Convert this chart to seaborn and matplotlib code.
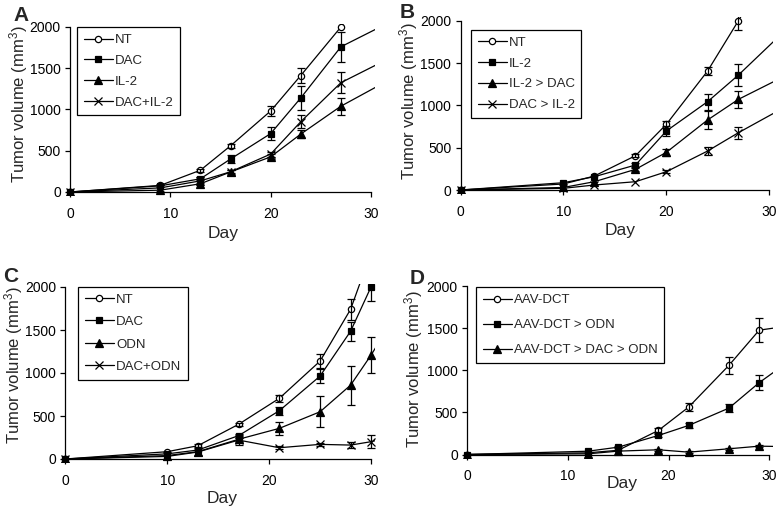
import numpy as np
import pandas as pd
import seaborn as sns
import matplotlib.pyplot as plt

# ---------------- data ----------------
# panel A
days_a = [0, 9, 13, 16, 20, 23, 27, 31]
nt_a = [0, 80, 264, 560, 982, 1412, 2000, 2700]
dac_a = [0, 75, 160, 400, 708, 1140, 1760, 2005]
il2_a = [0, 22, 100, 243, 426, 702, 1040, 1305]
dacil2_a = [0, 50, 135, 245, 460, 852, 1325, 1570]
nt_a_err = [0, 0, 20, 25, 60, 90, 0, 0]
dac_a_err = [0, 10, 20, 50, 80, 150, 185, 0]
il2_a_err = [0, 0, 15, 20, 30, 50, 101, 0]
dacil2_a_err = [0, 0, 0, 20, 30, 77, 130, 0]

# panel B
days_b = [0, 10, 13, 17, 20, 24, 27, 31]
nt_b = [0, 71, 165, 405, 776, 1405, 2000, 2800]
il2_b = [0, 86, 157, 295, 697, 1043, 1358, 1822]
il2dac_b = [0, 30, 98, 244, 445, 827, 1071, 1315]
dacil2_b = [0, 20, 59, 98, 216, 460, 677, 945]
nt_b_err = [0, 0, 0, 20, 40, 45, 105, 0]
il2_b_err = [0, 0, 0, 25, 60, 95, 130, 0]
il2dac_b_err = [0, 0, 0, 20, 40, 106, 102, 0]
dacil2_b_err = [0, 0, 0, 0, 20, 47, 71, 0]

# panel C
days_c = [0, 10, 13, 17, 21, 25, 28, 30, 31]
nt_c = [0, 85, 154, 403, 705, 1138, 1741, 2400, 2800]
dac_c = [0, 60, 104, 271, 561, 964, 1486, 2000, 2400]
odn_c = [0, 40, 85, 229, 356, 549, 859, 1207, 1400]
dacodn_c = [0, 30, 81, 220, 131, 170, 162, 201, 230]
nt_c_err = [0, 0, 15, 20, 40, 85, 125, 0, 0]
dac_c_err = [0, 0, 0, 25, 46, 77, 112, 163, 0]
odn_c_err = [0, 0, 0, 20, 77, 178, 228, 209, 0]
dacodn_c_err = [0, 0, 0, 58, 15, 15, 31, 77, 0]

# panel D
days_d = [0, 12, 15, 19, 22, 26, 29, 31]
aav_d = [0, 20, 50, 286, 563, 1059, 1476, 1510]
odn_d = [0, 39, 87, 226, 345, 551, 853, 1025]
dacodn_d = [0, 8, 40, 56, 28, 68, 99, 95]
aav_d_err = [0, 0, 0, 30, 52, 103, 145, 0]
odn_d_err = [0, 0, 15, 20, 30, 48, 89, 0]
dacodn_d_err = [0, 0, 0, 10, 10, 10, 12, 0]

panels = [
    ('A', days_a, [('NT', nt_a, nt_a_err), ('DAC', dac_a, dac_a_err),
                   ('IL-2', il2_a, il2_a_err), ('DAC+IL-2', dacil2_a, dacil2_a_err)]),
    ('B', days_b, [('NT', nt_b, nt_b_err), ('IL-2', il2_b, il2_b_err),
                   ('IL-2 > DAC', il2dac_b, il2dac_b_err), ('DAC > IL-2', dacil2_b, dacil2_b_err)]),
    ('C', days_c, [('NT', nt_c, nt_c_err), ('DAC', dac_c, dac_c_err),
                   ('ODN', odn_c, odn_c_err), ('DAC+ODN', dacodn_c, dacodn_c_err)]),
    ('D', days_d, [('AAV-DCT', aav_d, aav_d_err), ('AAV-DCT > ODN', odn_d, odn_d_err),
                   ('AAV-DCT > DAC > ODN', dacodn_d, dacodn_d_err)]),
]

# ---------------- layout (pixel positions of x=0, x=30, y=0, y=2000) ----------------
W, H = 777, 507
axis_px = {'A': (70, 371, 192, 27), 'B': (460.5, 769.3, 190, 20.7),
           'C': (65.3, 371, 459, 287), 'D': (467, 769.3, 454.5, 286)}
letter_px = {'A': (13, 6), 'B': (400, 3), 'C': (3, 267), 'D': (410, 269)}
legend_px = {'A': (77.3, 27.3, 0.65), 'B': (471, 30, 0.65), 'C': (78.3, 286.7, 0.78), 'D': (476, 287.3, 0.98)}
xlabel_px = {'A': (223.3, 233.3), 'B': (620, 230), 'C': (221.7, 498.3), 'D': (621.7, 483.3)}
ylabel_px = {'A': (18.6, 104), 'B': (409, 101), 'C': (13.3, 365), 'D': (414, 369)}
XLIM = (-0.6, 30.4)
YLIM = (-40, 2040)
# marker, size, face
marker_list = [('o', 4.5, 'white'), ('s', 5, 'black'), ('^', 5.5, 'black'), ('x', 5.5, 'black')]

sns.set_style('ticks')
plt.rcParams['font.family'] = ['Liberation Sans', 'DejaVu Sans']
plt.rcParams['mathtext.fontset'] = 'custom'
plt.rcParams['mathtext.rm'] = 'Liberation Sans'
plt.rcParams['mathtext.it'] = 'Liberation Sans'

fig = plt.figure(figsize=(W / 100, H / 100), dpi=100)


def axes_rect(x0, x30, y0, y2000):
    ppd = (x30 - x0) / 30
    ppu = (y0 - y2000) / 2000
    left = x0 + XLIM[0] * ppd
    right = x30 + (XLIM[1] - 30) * ppd
    bottom = y0 - YLIM[0] * ppu
    top = y2000 - (YLIM[1] - 2000) * ppu
    return [left / W, 1 - bottom / H, (right - left) / W, (bottom - top) / H]


for letter, days, series in panels:
    ax = fig.add_axes(axes_rect(*axis_px[letter]))
    handles = []
    names = []
    for (name, vals, errs), (mk, ms, face) in zip(series, marker_list):
        n_before = len(ax.lines)
        sns.lineplot(x=days, y=vals, color='black', marker=mk, markersize=ms,
                     markerfacecolor=face, markeredgecolor='black', markeredgewidth=0.9,
                     linewidth=0.9, errorbar=None, ax=ax)
        handles.append(ax.lines[n_before])
        names.append(name)
        d = np.array(days)
        v = np.array(vals)
        e = np.array(errs)
        keep = e > 0
        ax.errorbar(d[keep], v[keep], yerr=e[keep], fmt='none', ecolor='black',
                    elinewidth=0.9, capsize=3, capthick=0.9)

    ax.set_xlim(*XLIM)
    ax.set_ylim(*YLIM)
    ax.set_xticks([0, 10, 20, 30])
    ax.set_yticks([0, 500, 1000, 1500, 2000])
    for side in ['top', 'right']:
        ax.spines[side].set_visible(False)
    ax.spines['left'].set_position(('data', 0))
    ax.spines['bottom'].set_position(('data', 0))
    ax.spines['left'].set_bounds(0, 2000)
    ax.spines['bottom'].set_bounds(0, 30)
    for side in ['left', 'bottom']:
        ax.spines[side].set_color('black')
        ax.spines[side].set_linewidth(0.9)
    ax.tick_params(direction='out', length=3.6, width=0.9, colors='black', labelsize=10)
    ax.tick_params(axis='x', pad=7)
    ax.tick_params(axis='y', pad=3)

    ax.set_xlabel('Day', fontsize=12.5)
    ax.set_ylabel('Tumor volume (mm$^3$)', fontsize=12)
    xx, xy = xlabel_px[letter]
    ax.xaxis.set_label_coords(xx / W, 1 - xy / H, transform=fig.transFigure)
    ax.xaxis.label.set_va('center')
    yx, yy = ylabel_px[letter]
    ax.yaxis.set_label_coords(yx / W, 1 - yy / H, transform=fig.transFigure)
    ax.yaxis.label.set_va('center')

    lx, ly, lsp = legend_px[letter]
    leg = ax.legend(handles=handles, labels=names, loc='upper left',
                    bbox_to_anchor=(lx / W, 1 - ly / H), bbox_transform=fig.transFigure,
                    borderaxespad=0, fontsize=9.5, frameon=True, fancybox=False,
                    edgecolor='black', framealpha=1, handlelength=2.2,
                    handletextpad=0.15, labelspacing=lsp, borderpad=0.5)
    leg.get_frame().set_linewidth(0.9)

    tx, ty = letter_px[letter]
    fig.text(tx / W, 1 - ty / H, letter, fontsize=15, fontweight='bold', va='top', ha='left')

fig.savefig('out.png', dpi=100)
